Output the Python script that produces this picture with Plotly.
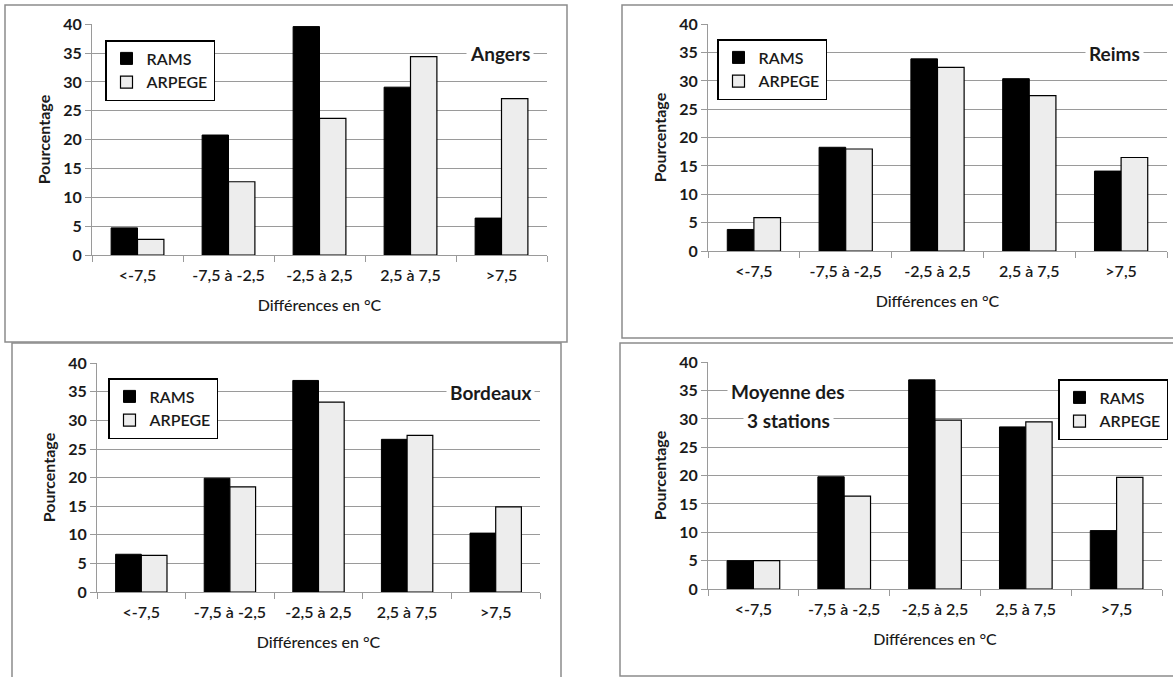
import plotly.graph_objects as go

categories = ["<-7,5", "-7,5 à -2,5", "-2,5 à 2,5", "2,5 à 7,5", ">7,5"]
series_names = ["RAMS", "ARPEGE"]

angers_rams = [4.7, 20.8, 39.6, 29.1, 6.4]
angers_arpege = [2.7, 12.7, 23.7, 34.4, 27.1]
reims_rams = [3.8, 18.3, 33.9, 30.4, 14.1]
reims_arpege = [5.9, 18.0, 32.4, 27.4, 16.5]
bordeaux_rams = [6.6, 19.9, 37.0, 26.7, 10.3]
bordeaux_arpege = [6.4, 18.4, 33.2, 27.4, 14.9]
moyenne_rams = [5.0, 19.8, 36.9, 28.6, 10.3]
moyenne_arpege = [5.0, 16.4, 29.8, 29.5, 19.7]

station_labels = ["Angers", "Reims", "Bordeaux", "Moyenne des", "3 stations"]
y_title = "Pourcentage"
x_title = "Différences en °C"

W, H = 1173, 677
FONT = "Lato"
TXT = "#1a1a1a"
GRID = "#9a9a9a"


def px(x):
    return x / W


def py(y):
    return 1 - y / H


# plot areas (pixels): x0, x1, ytop, ybottom
panels = [
    dict(rams=angers_rams, arpege=angers_arpege, area=(92, 547, 24, 255),
         legend=(105, 40)),
    dict(rams=reims_rams, arpege=reims_arpege, area=(708, 1167, 24, 251),
         legend=(717, 39)),
    dict(rams=bordeaux_rams, arpege=bordeaux_arpege, area=(97, 540, 363, 592),
         legend=(108, 378)),
    dict(rams=moyenne_rams, arpege=moyenne_arpege, area=(708, 1162, 362, 589),
         legend=(1058, 379)),
]

fig = go.Figure()
layout = {}
for i, p in enumerate(panels):
    n = "" if i == 0 else str(i + 1)
    leg = "legend" + n
    xa, ya = "x" + n, "y" + n
    fig.add_trace(go.Bar(
        x=categories, y=p["rams"], name=series_names[0], xaxis=xa, yaxis=ya,
        marker=dict(color="#000000", line=dict(color="#000000", width=1)),
        legend=leg, legendgroup="a%d" % i, hoverinfo="y"))
    fig.add_trace(go.Bar(
        x=categories, y=p["arpege"], name=series_names[1], xaxis=xa, yaxis=ya,
        marker=dict(color="#ededed", line=dict(color="#000000", width=1.2)),
        legend=leg, legendgroup="b%d" % i, hoverinfo="y"))
    x0, x1, yt, yb = p["area"]
    layout["xaxis" + n] = dict(
        domain=[px(x0), px(x1)], anchor=ya, type="category",
        automargin=False,
        showline=True, linecolor=GRID, linewidth=1,
        ticks="outside", tickson="boundaries", ticklen=6, tickcolor=GRID,
        ticklabelstandoff=6,
        tickfont=dict(family=FONT, size=16, color=TXT, weight=600),
        title=dict(text=x_title, standoff=16,
                   font=dict(family=FONT, size=16, color=TXT, weight=500)),
        showgrid=False, fixedrange=True)
    layout["yaxis" + n] = dict(
        domain=[py(yb), py(yt)], anchor=xa, range=[0, 40.05],
        automargin=False,
        tick0=0, dtick=5, showline=True, linecolor=GRID, linewidth=1,
        ticks="outside", ticklen=6, tickcolor=GRID,
        showgrid=True, gridcolor=GRID, gridwidth=1, zeroline=False,
        tickfont=dict(family=FONT, size=16, color=TXT, weight=700),
        title=dict(text=y_title, standoff=8,
                   font=dict(family=FONT, size=16, color=TXT, weight=700)),
        fixedrange=True)
    lx, ly = p["legend"]
    layout[leg] = dict(
        x=px(lx), y=py(ly), xanchor="left", yanchor="top",
        bgcolor="white", bordercolor="#000000", borderwidth=1.5,
        font=dict(family=FONT, size=16, color=TXT, weight=600),
        traceorder="grouped", tracegroupgap=0, itemwidth=30)

frames = [(5, 5, 567, 342), (622, 5, 1185, 338), (12, 343, 561, 690),
          (620, 343, 1185, 676)]
shapes = []
for (a, b, c, d) in frames:
    shapes.append(dict(type="rect", xref="paper", yref="paper",
                       x0=px(a), x1=px(c), y0=py(d), y1=py(b),
                       line=dict(color="#8c8c8c", width=1.5), layer="below"))

ann_pos = [(500, 53), (1114, 53), (490, 392), (788, 391), (788, 420)]
annotations = []
for txt, (ax, ay) in zip(station_labels, ann_pos):
    annotations.append(dict(
        text=txt, xref="paper", yref="paper", x=px(ax), y=py(ay),
        xanchor="center", yanchor="middle", showarrow=False,
        bgcolor="white", borderpad=3,
        font=dict(family=FONT, size=19, color=TXT, weight=700)))

fig.update_layout(
    width=W, height=H,
    margin=dict(l=0, r=0, t=0, b=0, pad=0, autoexpand=False),
    paper_bgcolor="white", plot_bgcolor="white",
    barmode="group", bargap=0.42, bargroupgap=0,
    showlegend=True, shapes=shapes, annotations=annotations,
    font=dict(family=FONT, color=TXT), **layout)

fig.write_html(
    "out.html",
    config={"displayModeBar": False},
    post_script="document.body.style.margin='0';"
                "document.body.style.overflow='hidden';")
